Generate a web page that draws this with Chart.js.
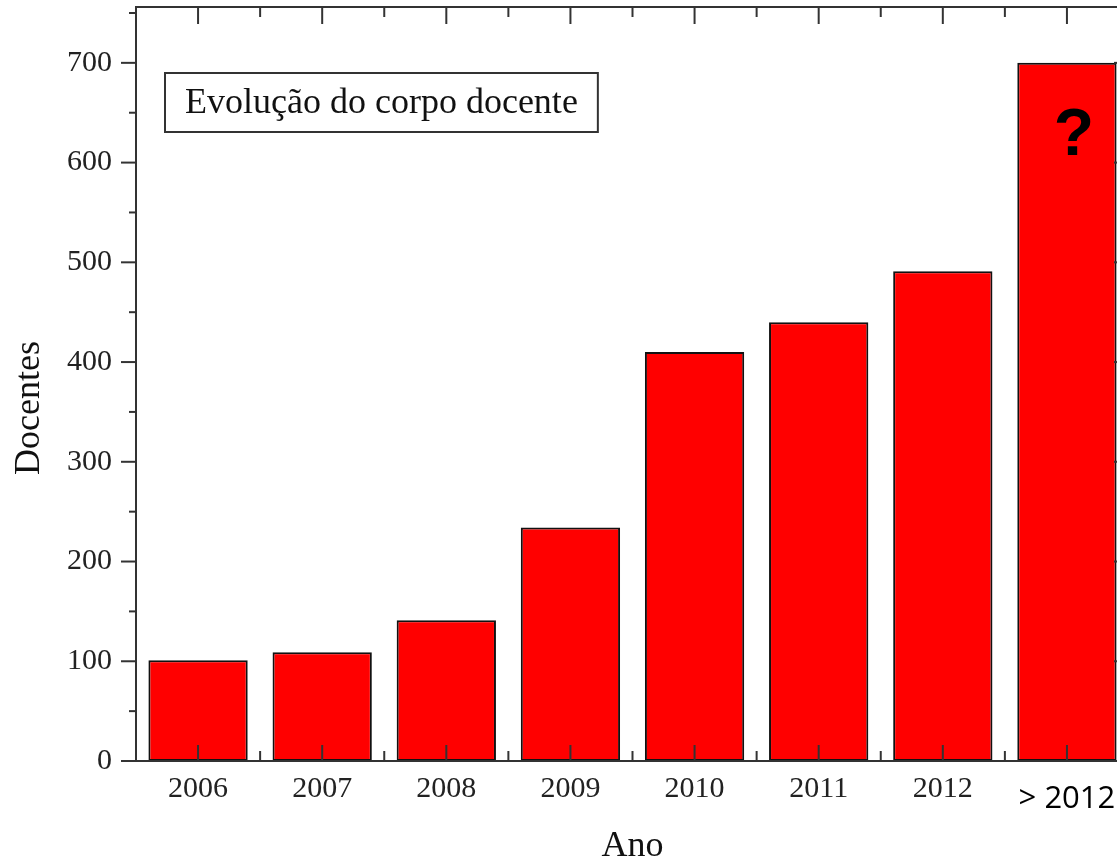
<!DOCTYPE html>
<html>
<head>
<meta charset="utf-8">
<script src="https://cdn.jsdelivr.net/npm/chart.js@4.4.0/dist/chart.umd.min.js"></script>
<style>
  html, body { margin: 0; padding: 0; background: #fff; overflow: hidden; }
  #wrap { width: 1135px; height: 865px; }
</style>
</head>
<body>
<div id="wrap"><canvas id="myChart" width="1135" height="865"></canvas></div>
<script>
// dados
const anos = ['2006', '2007', '2008', '2009', '2010', '2011', '2012', '> 2012'];
const docentes = [101, 109, 141, 234, 410, 440, 491, 700];
const yMajor = [0, 100, 200, 300, 400, 500, 600, 700];
const yMinor = [50, 150, 250, 350, 450, 550, 650, 750];
const titulo = 'Evolução do corpo docente';

const serif = '"Liberation Serif", "Times New Roman", serif';

// moldura, marcas das escalas e textos extra
const frame = {
  id: 'frame',
  afterDatasetsDraw(chart) {
    const { ctx, chartArea: a, scales: { x, y } } = chart;
    ctx.save();
    ctx.strokeStyle = '#333';
    ctx.lineWidth = 2;
    ctx.strokeRect(a.left, a.top, a.right - a.left, a.bottom - a.top);

    const tick = (x1, y1, x2, y2) => {
      ctx.beginPath(); ctx.moveTo(x1, y1); ctx.lineTo(x2, y2); ctx.stroke();
    };
    yMajor.forEach(v => {
      const p = y.getPixelForValue(v);
      tick(a.left - 15, p, a.left, p);
      tick(a.right, p, a.right - 15, p);
    });
    yMinor.forEach(v => {
      const p = y.getPixelForValue(v);
      tick(a.left - 7, p, a.left, p);
      tick(a.right, p, a.right - 7, p);
    });
    anos.forEach((c, i) => {
      const p = x.getPixelForValue(i);
      tick(p, a.top, p, a.top + 17);
      tick(p, a.bottom, p, a.bottom - 16);
    });
    for (let i = 1; i < anos.length; i++) {
      const p = (x.getPixelForValue(i - 1) + x.getPixelForValue(i)) / 2;
      tick(p, a.top, p, a.top + 10);
      tick(p, a.bottom, p, a.bottom - 10);
    }

    // caixa do titulo
    ctx.font = '36px ' + serif;
    const w = ctx.measureText(titulo).width;
    const bx = a.left + 29, by = a.top + 66, bh = 59;
    ctx.fillStyle = '#fff';
    ctx.fillRect(bx, by, w + 40, bh);
    ctx.strokeRect(bx, by, w + 40, bh);
    ctx.fillStyle = '#111';
    ctx.textAlign = 'left';
    ctx.textBaseline = 'middle';
    ctx.fillText(titulo, bx + 20, by + bh / 2 + 1);

    // ponto de interrogacao na ultima barra
    const bar = chart.getDatasetMeta(0).data[anos.length - 1];
    ctx.font = 'bold 66px "Liberation Sans", Arial, sans-serif';
    ctx.fillStyle = '#000';
    ctx.textAlign = 'center';
    ctx.fillText('?', bar.x + 7, bar.y + 74);

    // titulo do eixo y
    ctx.translate(30, (a.top + a.bottom) / 2 + 24);
    ctx.rotate(-Math.PI / 2);
    ctx.font = '36px ' + serif;
    ctx.fillStyle = '#111';
    ctx.fillText('Docentes', 0, 0);
    ctx.restore();
  }
};

const data = {
  labels: anos,
  datasets: [{
    label: 'Docentes',
    data: docentes,
    backgroundColor: '#ff0000',
    borderColor: '#111',
    borderWidth: 2,
    borderSkipped: false,
    barPercentage: 0.8,
    categoryPercentage: 1.0
  }]
};

const config = {
  type: 'bar',
  data: data,
  options: {
    responsive: false,
    animation: false,
    layout: { padding: { top: 7, right: 6, left: 0, bottom: 0 } },
    plugins: { legend: { display: false }, tooltip: { enabled: false } },
    scales: {
      x: {
        offset: true,
        grid: { display: false, drawTicks: false },
        border: { display: false },
        ticks: {
          autoSkip: false,
          maxRotation: 0,
          padding: 10,
          color: c => c.index === 7 ? '#000' : '#222',
          font: c => c.index === 7
            ? { family: '"Open Sans", sans-serif', size: 31, lineHeight: 1.8 }
            : { family: serif, size: 30, lineHeight: 1.2 }
        },
        title: {
          display: true,
          text: 'Ano',
          color: '#111',
          font: { family: serif, size: 36 },
          padding: { top: 0, bottom: -3 }
        },
        afterFit: s => {
          s.height = 104;
          s.paddingLeft = 0; s.paddingRight = 0;
        }
      },
      y: {
        min: 0,
        max: 756,
        grid: { display: false, drawTicks: false },
        border: { display: false },
        ticks: {
          stepSize: 100,
          includeBounds: false,
          padding: 24,
          color: '#222',
          font: { family: serif, size: 30 }
        },
        afterFit: s => {
          s.width = 136;
          s.paddingTop = 0; s.paddingBottom = 0;
        }
      }
    }
  },
  plugins: [frame]
};

const myChart = new Chart(document.getElementById('myChart'), config);
</script>
</body>
</html>
